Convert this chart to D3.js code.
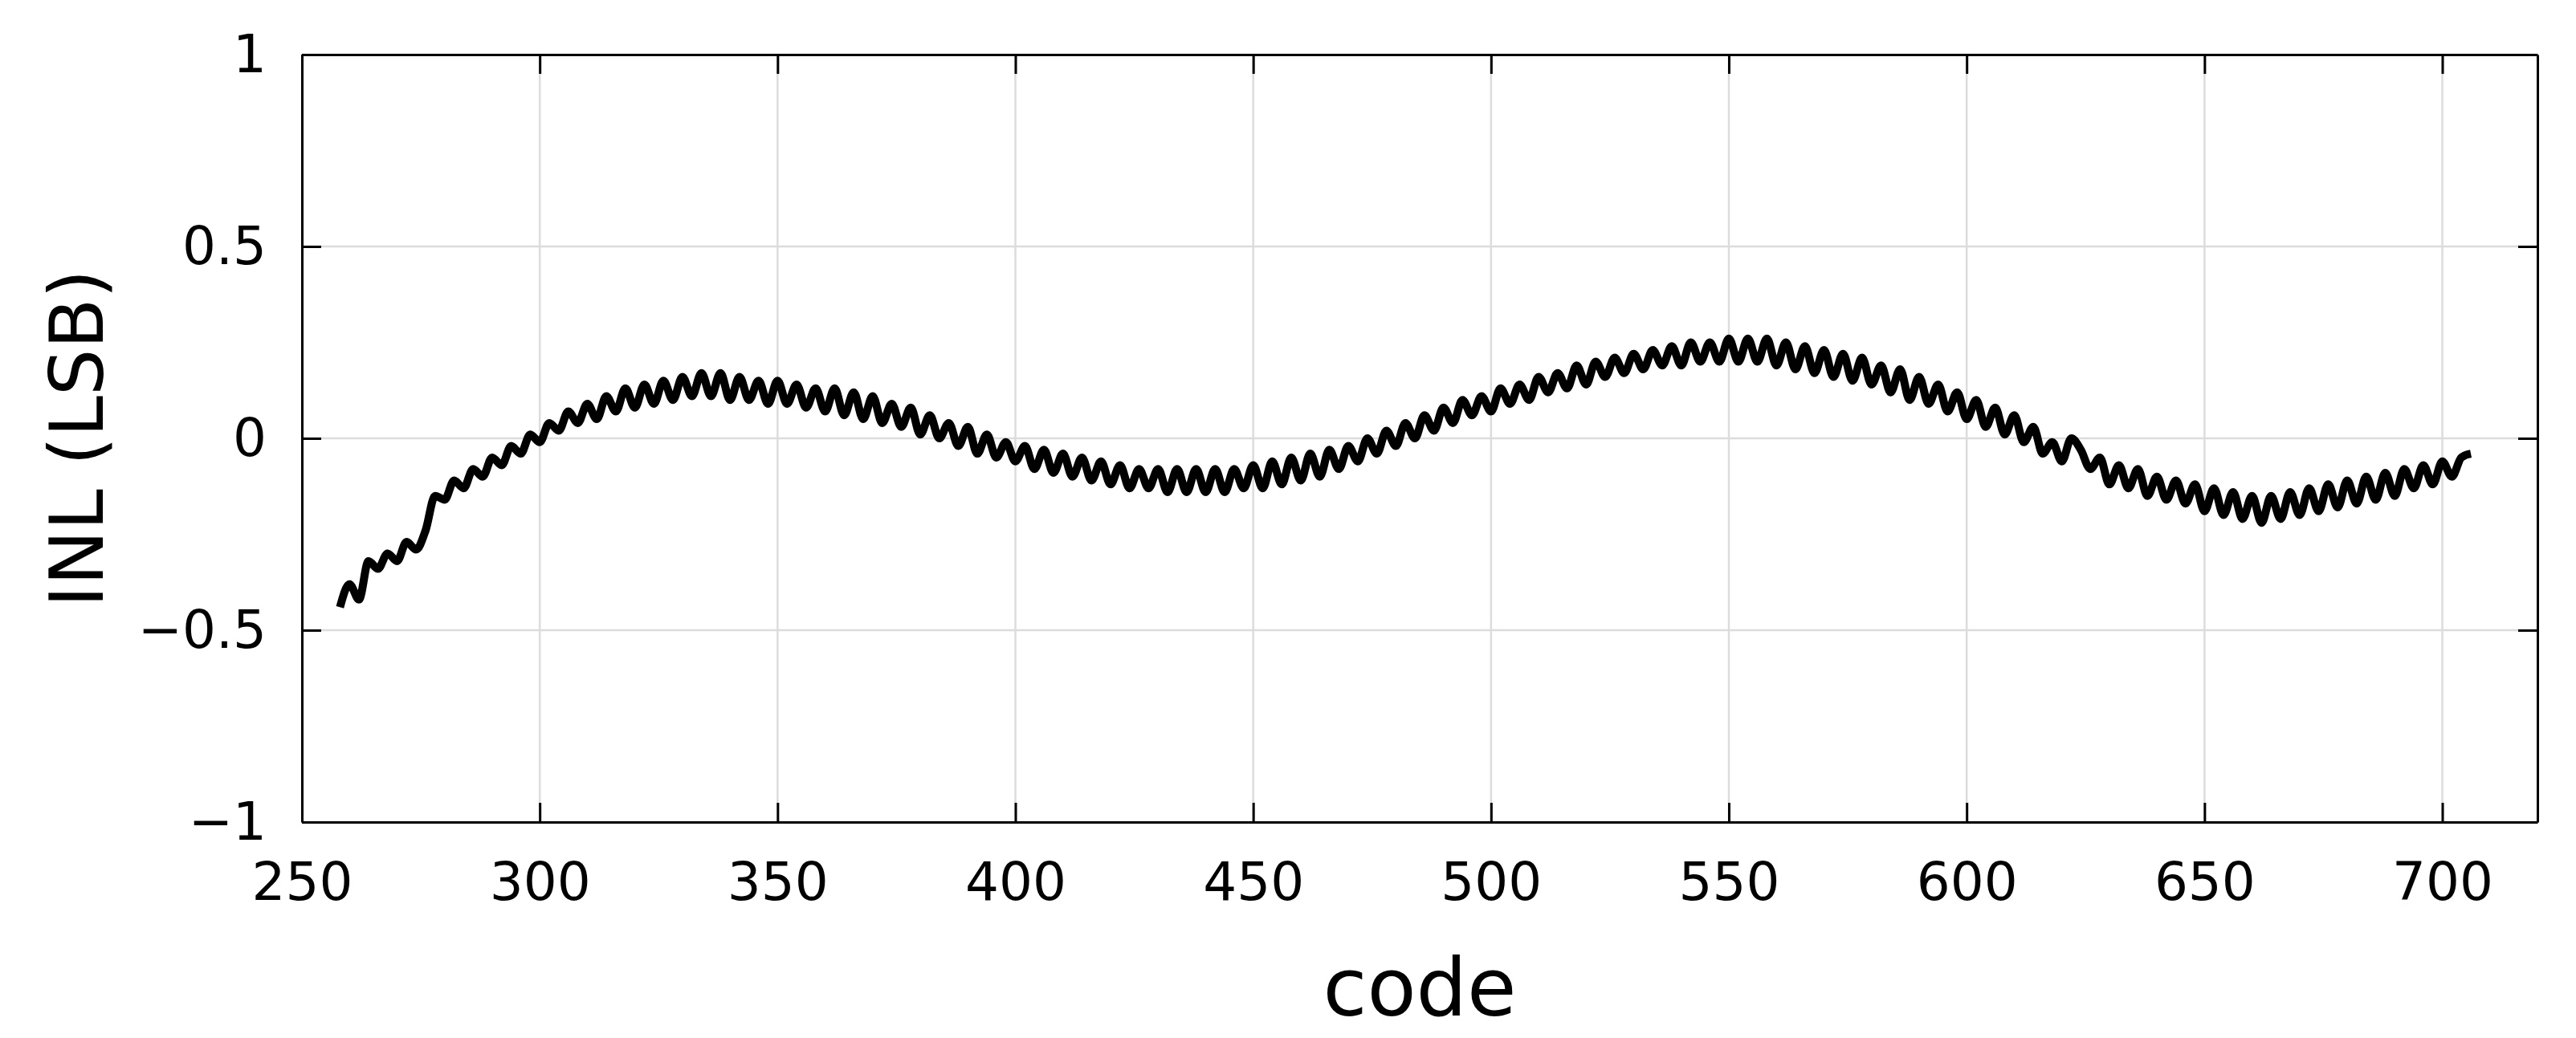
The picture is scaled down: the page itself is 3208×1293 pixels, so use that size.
<!DOCTYPE html>
<html><head><meta charset="utf-8">
<script src="https://cdn.jsdelivr.net/npm/d3@7"></script>
<style>body{margin:0;background:#fff}text{font-family:"DejaVu Sans",sans-serif}</style>
</head><body><svg id="c" width="3208" height="1293"></svg>
<script>
const codeStart = 258, codeStep = 2;
const inl = [-0.44,-0.38,-0.42,-0.32,-0.34,-0.30,-0.32,-0.27,-0.29,-0.24,-0.15,-0.16,-0.11,-0.13,-0.08,-0.10,-0.05,-0.07,-0.02,-0.04,0.01,-0.01,0.04,0.02,0.07,0.04,0.09,0.05,0.11,0.07,0.13,0.08,0.14,0.09,0.15,0.10,0.16,0.11,0.17,0.11,0.17,0.10,0.16,0.10,0.15,0.09,0.15,0.09,0.14,0.08,0.13,0.07,0.13,0.06,0.12,0.05,0.11,0.04,0.09,0.03,0.08,0.01,0.06,0.00,0.04,-0.02,0.03,-0.04,0.01,-0.05,-0.01,-0.06,-0.02,-0.08,-0.03,-0.09,-0.04,-0.10,-0.05,-0.11,-0.06,-0.12,-0.07,-0.13,-0.08,-0.13,-0.08,-0.14,-0.08,-0.14,-0.08,-0.14,-0.08,-0.14,-0.08,-0.13,-0.07,-0.13,-0.06,-0.12,-0.05,-0.11,-0.04,-0.10,-0.03,-0.08,-0.02,-0.06,0.00,-0.04,0.02,-0.02,0.04,0.00,0.06,0.02,0.08,0.04,0.10,0.06,0.11,0.07,0.13,0.09,0.14,0.10,0.16,0.12,0.17,0.13,0.19,0.14,0.20,0.16,0.21,0.17,0.22,0.18,0.23,0.19,0.24,0.19,0.25,0.20,0.25,0.20,0.26,0.20,0.26,0.20,0.26,0.19,0.25,0.18,0.24,0.17,0.23,0.16,0.22,0.15,0.21,0.14,0.19,0.12,0.18,0.10,0.16,0.09,0.14,0.07,0.12,0.05,0.10,0.03,0.08,0.01,0.06,-0.01,0.03,-0.04,-0.01,-0.06,0.00,-0.03,-0.08,-0.05,-0.12,-0.07,-0.13,-0.08,-0.15,-0.10,-0.16,-0.11,-0.17,-0.12,-0.19,-0.13,-0.20,-0.14,-0.21,-0.15,-0.22,-0.15,-0.21,-0.14,-0.20,-0.13,-0.19,-0.12,-0.18,-0.11,-0.17,-0.10,-0.16,-0.09,-0.15,-0.08,-0.13,-0.07,-0.12,-0.06,-0.10,-0.05,-0.04];
const xTicks = [250,300,350,400,450,500,550,600,650,700];
const yTicks = [-1,-0.5,0,0.5,1];
const yTickLabels = ["\u22121","\u22120.5","0","0.5","1"];

const L=376,R=3160,T=68,B=1024;
const svg=d3.select("#c");
const x=d3.scaleLinear().domain([250,720]).range([L,R]);
const y=d3.scaleLinear().domain([-1,1]).range([B,T]);
const g=svg.append("g");
g.selectAll(".gx").data(xTicks).join("line").attr("x1",d=>x(d)).attr("x2",d=>x(d)).attr("y1",T).attr("y2",B).attr("stroke","#dcdcdc").attr("stroke-width",2.5);
g.selectAll(".gy").data(yTicks).join("line").attr("y1",d=>y(d)).attr("y2",d=>y(d)).attr("x1",L).attr("x2",R).attr("stroke","#dcdcdc").attr("stroke-width",2.5);
const pts=inl.map((v,i)=>[codeStart+i*codeStep,v]);
g.append("path").datum(pts).attr("d",d3.line().x(d=>x(d[0])).y(d=>y(d[1])).curve(d3.curveMonotoneX)).attr("fill","none").attr("stroke","#000").attr("stroke-width",10).attr("stroke-linejoin","round");
const ax=(a,t)=>svg.append("g").attr("transform",t).call(a).call(s=>{s.select(".domain").attr("stroke","#000").attr("stroke-width",3);s.selectAll(".tick line").attr("stroke","#000").attr("stroke-width",3);});
ax(d3.axisBottom(x).tickValues(xTicks).tickSize(-24).tickPadding(50).tickSizeOuter(0),`translate(0,${B})`).selectAll("text").attr("font-size",66).attr("fill","#000");
ax(d3.axisTop(x).tickValues(xTicks).tickSize(-24).tickFormat("").tickSizeOuter(0),`translate(0,${T})`);
ax(d3.axisLeft(y).tickValues(yTicks).tickSize(-24).tickPadding(44).tickFormat((d,i)=>yTickLabels[i]).tickSizeOuter(0),`translate(${L},0)`).selectAll("text").attr("font-size",66).attr("fill","#000");
ax(d3.axisRight(y).tickValues(yTicks).tickSize(-24).tickFormat("").tickSizeOuter(0),`translate(${R},0)`);
svg.append("text").attr("x",(L+R)/2).attr("y",1265).attr("text-anchor","middle").attr("font-size",100).text("code");
svg.append("text").attr("transform",`translate(128,${(T+B)/2}) rotate(-90)`).attr("text-anchor","middle").attr("font-size",92).text("INL (LSB)");
</script></body></html>
